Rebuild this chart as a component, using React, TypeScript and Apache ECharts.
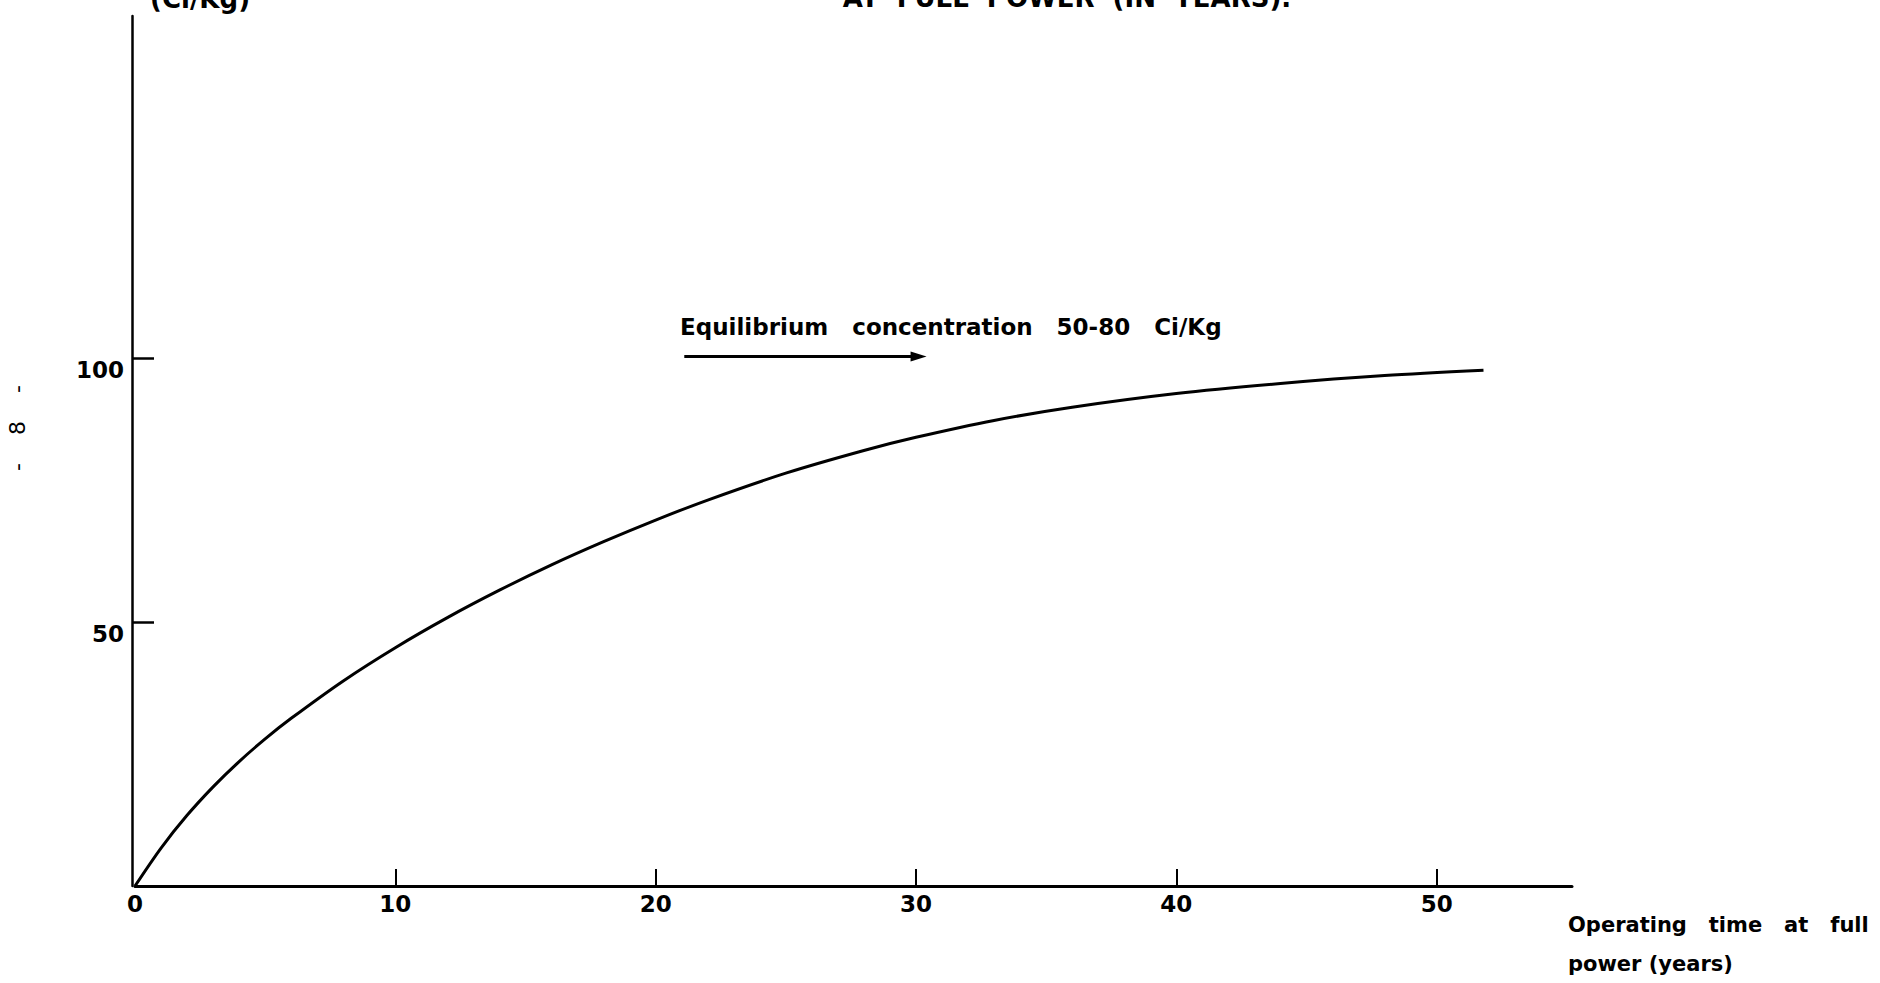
import React, { useEffect, useRef } from "react";
import * as echarts from "echarts";

// Operating time at full power (years)
const years = [0, 1, 2, 3, 4, 5, 6, 8, 10, 12, 14, 16, 18, 20, 22, 25, 28, 30, 33, 36, 40, 44, 48, 51.8];
// Concentration (Ci/Kg)
const concentration = [0, 7.2, 13.4, 18.8, 23.6, 27.9, 31.8, 38.9, 45.2, 50.9, 56.1, 60.9, 65.3, 69.4, 73.2, 78.3, 82.6, 85.1, 88.3, 90.8, 93.4, 95.3, 96.8, 97.8];

const xTickValues = [10, 20, 30, 40, 50];
const xLabelValues = [0, 10, 20, 30, 40, 50];
const yTickValues = [50, 100];
const yLabelValues = [50, 100];

const arrowStart = [21.1, 100.4];
const arrowEnd = [30.1, 100.4];

const annotationText = "Equilibrium\u00A0\u00A0 concentration\u00A0\u00A0 50-80\u00A0\u00A0 Ci/Kg";
const xAxisName = "Operating\u00A0\u00A0 time\u00A0\u00A0 at\u00A0\u00A0 full\npower (years)";
const yAxisName = "(Ci/Kg)";
const topTitle = "AT\u00A0 FULL\u00A0 POWER\u00A0 (IN\u00A0 YEARS).";
const pageNumber = "-\u00A0\u00A0\u00A0 8\u00A0\u00A0\u00A0 -";

export default function App() {
  const ref = useRef<HTMLDivElement>(null);

  useEffect(() => {
    if (!ref.current) return;
    const chart = echarts.init(ref.current, null, { renderer: "svg" });
    const data = years.map((x, i) => [x, concentration[i]]);
    const font = "DejaVu Sans";

    chart.setOption({
      animation: false,
      backgroundColor: "#ffffff",
      grid: { left: 135, right: 308, top: 16, bottom: 97, containLabel: false },
      xAxis: {
        type: "value",
        min: 0,
        max: 55.2,
        axisLine: { show: true, onZero: false, lineStyle: { color: "#000", width: 3 } },
        axisTick: { show: true, inside: true, length: 17, customValues: xTickValues, lineStyle: { color: "#000", width: 2 } },
        axisLabel: {
          show: true,
          customValues: xLabelValues,
          margin: 6,
          color: "#000",
          fontFamily: font,
          fontWeight: "bold",
          fontSize: 23,
        },
        splitLine: { show: false },
      },
      yAxis: {
        type: "value",
        min: 0,
        max: 165,
        offset: 3,
        axisLine: { show: true, onZero: false, lineStyle: { color: "#000", width: 2.5 } },
        axisTick: { show: true, inside: true, length: 22, customValues: yTickValues, lineStyle: { color: "#000", width: 2.5 } },
        axisLabel: {
          show: true,
          customValues: yLabelValues,
          margin: 8,
          color: "#000",
          fontFamily: font,
          fontWeight: "bold",
          fontSize: 23,
          verticalAlign: "top",
        },
        splitLine: { show: false },
      },
      series: [
        {
          type: "line",
          data,
          smooth: 0.3,
          showSymbol: false,
          symbol: "none",
          lineStyle: { color: "#000", width: 3 },
          markLine: {
            silent: true,
            symbol: ["none", "triangle"],
            symbolSize: [10, 16],
            label: { show: false },
            lineStyle: { color: "#000", width: 3, type: "solid" },
            data: [[{ coord: arrowStart }, { coord: arrowEnd }]],
          },
        },
      ],
      graphic: [
        {
          type: "text",
          left: 150,
          top: -14,
          style: { text: yAxisName, fill: "#000", font: `bold 26px "${font}"` },
        },
        {
          type: "text",
          x: 1067,
          y: 11,
          style: { text: topTitle, fill: "#000", font: `bold 26px "${font}"`, align: "center", verticalAlign: "bottom" },
        },
        {
          type: "text",
          x: 17,
          y: 428,
          rotation: Math.PI / 2,
          style: { text: pageNumber, fill: "#000", font: `22px "${font}"`, align: "center", verticalAlign: "middle" },
        },
        {
          type: "text",
          x: 680,
          y: 327,
          style: { text: annotationText, fill: "#000", font: `bold 23px "${font}"`, align: "left", verticalAlign: "middle" },
        },
        {
          type: "text",
          x: 1568,
          y: 905,
          style: { text: xAxisName, fill: "#000", font: `bold 21px "${font}"`, lineHeight: 39, align: "left", verticalAlign: "top" },
        },
      ],
    });

    return () => chart.dispose();
  }, []);

  return (
    <div
      ref={ref}
      style={{ position: "fixed", left: 0, top: 0, width: 1880, height: 983, background: "#fff" }}
    />
  );
}
